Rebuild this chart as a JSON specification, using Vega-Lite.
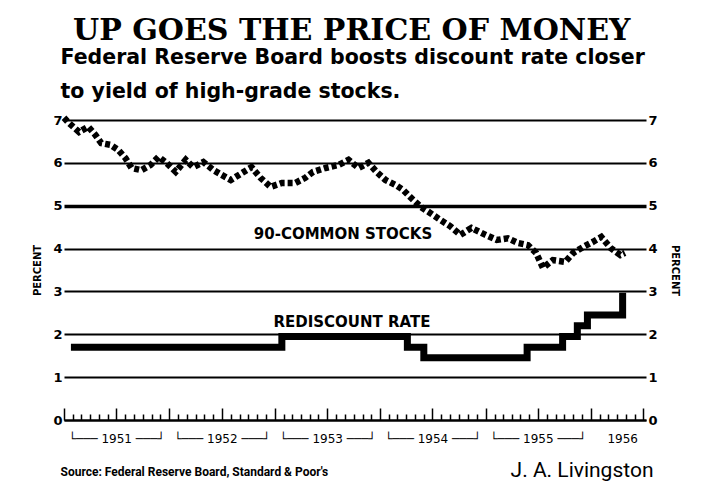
{
  "$schema": "https://vega.github.io/schema/vega-lite/v6.json",
  "width": 582,
  "height": 300,
  "padding": {"left": 32, "top": 16, "right": 26, "bottom": 6},
  "background": "white",
  "title": {
    "text": "UP GOES THE PRICE OF MONEY",
    "anchor": "start",
    "frame": "group",
    "dx": 9,
    "font": "DejaVu Serif",
    "fontSize": 30,
    "fontWeight": "bold",
    "color": "black",
    "baseline": "alphabetic",
    "offset": -23
  },
  "datasets": {
    "stocks": [
      {"date": "1951-01-01", "yield": 7.05},
      {"date": "1951-01-18", "yield": 6.93},
      {"date": "1951-02-22", "yield": 6.72},
      {"date": "1951-03-26", "yield": 6.84},
      {"date": "1951-04-20", "yield": 6.65},
      {"date": "1951-05-10", "yield": 6.46},
      {"date": "1951-06-11", "yield": 6.42},
      {"date": "1951-07-08", "yield": 6.3},
      {"date": "1951-08-02", "yield": 6.11},
      {"date": "1951-08-23", "yield": 5.88},
      {"date": "1951-09-26", "yield": 5.83},
      {"date": "1951-10-28", "yield": 5.95},
      {"date": "1951-11-25", "yield": 6.14},
      {"date": "1951-12-22", "yield": 6.0},
      {"date": "1952-01-23", "yield": 5.79},
      {"date": "1952-02-27", "yield": 6.07},
      {"date": "1952-03-24", "yield": 5.9},
      {"date": "1952-04-28", "yield": 6.02},
      {"date": "1952-06-02", "yield": 5.83},
      {"date": "1952-06-30", "yield": 5.72},
      {"date": "1952-08-01", "yield": 5.6},
      {"date": "1952-09-08", "yield": 5.76},
      {"date": "1952-10-12", "yield": 5.9},
      {"date": "1952-11-12", "yield": 5.65},
      {"date": "1952-12-17", "yield": 5.44},
      {"date": "1953-01-25", "yield": 5.53},
      {"date": "1953-03-12", "yield": 5.53},
      {"date": "1953-04-16", "yield": 5.65},
      {"date": "1953-05-13", "yield": 5.79},
      {"date": "1953-06-25", "yield": 5.88},
      {"date": "1953-08-09", "yield": 5.95},
      {"date": "1953-09-13", "yield": 6.07},
      {"date": "1953-10-18", "yield": 5.88},
      {"date": "1953-11-21", "yield": 6.0},
      {"date": "1953-12-19", "yield": 5.79},
      {"date": "1954-01-19", "yield": 5.6},
      {"date": "1954-02-24", "yield": 5.48},
      {"date": "1954-03-21", "yield": 5.37},
      {"date": "1954-04-18", "yield": 5.18},
      {"date": "1954-05-22", "yield": 4.97},
      {"date": "1954-06-23", "yield": 4.83},
      {"date": "1954-07-28", "yield": 4.67},
      {"date": "1954-09-01", "yield": 4.52},
      {"date": "1954-10-06", "yield": 4.32},
      {"date": "1954-11-13", "yield": 4.48},
      {"date": "1955-01-01", "yield": 4.32},
      {"date": "1955-02-09", "yield": 4.2},
      {"date": "1955-03-19", "yield": 4.24},
      {"date": "1955-04-24", "yield": 4.13},
      {"date": "1955-05-28", "yield": 4.08},
      {"date": "1955-06-25", "yield": 3.9},
      {"date": "1955-07-19", "yield": 3.55},
      {"date": "1955-08-22", "yield": 3.73},
      {"date": "1955-10-04", "yield": 3.69},
      {"date": "1955-11-01", "yield": 3.9},
      {"date": "1955-12-06", "yield": 4.04},
      {"date": "1956-01-09", "yield": 4.16},
      {"date": "1956-02-06", "yield": 4.27},
      {"date": "1956-03-10", "yield": 4.01},
      {"date": "1956-04-12", "yield": 3.85},
      {"date": "1956-04-28", "yield": 3.9}
    ],
    "rate": [
      {"date": "1951-01-25", "rate": 1.7},
      {"date": "1953-01-25", "rate": 1.95},
      {"date": "1954-04-05", "rate": 1.7},
      {"date": "1954-06-01", "rate": 1.45},
      {"date": "1955-05-25", "rate": 1.7},
      {"date": "1955-09-25", "rate": 1.95},
      {"date": "1955-11-15", "rate": 2.2},
      {"date": "1955-12-20", "rate": 2.45},
      {"date": "1956-04-20", "rate": 2.97}
    ],
    "labels": [
      {"label": "90-COMMON STOCKS", "date": "1953-08-25", "value": 4.34},
      {"label": "REDISCOUNT RATE", "date": "1953-09-25", "value": 2.29}
    ]
  },
  "layer": [
    {
      "data": {"name": "stocks"},
      "mark": {"type": "line", "color": "black", "strokeWidth": 6.5, "strokeDash": [5, 3]},
      "encoding": {
        "x": {
          "field": "date",
          "type": "temporal",
          "scale": {"type": "utc", "domain": [{"year": 1951, "month": 1, "date": 1, "utc": true}, {"year": 1956, "month": 7, "date": 10, "utc": true}]},
          "axis": {
            "orient": "bottom",
            "tickCount": {"interval": "month", "step": 1},
            "tickSize": {"condition": {"test": "utcmonth(datum.value) % 6 === 0", "value": -12}, "value": -6},
            "tickColor": "black",
            "tickWidth": 1.5,
            "domain": true,
            "domainColor": "black",
            "domainWidth": 2,
            "grid": false,
            "labelExpr": "utcmonth(datum.value) === 6 && utcyear(datum.value) < 1956 ? '\u2514\u2500\u2500\u2500 ' + utcyear(datum.value) + ' \u2500\u2500\u2500\u2518' : (utcmonth(datum.value) === 3 && utcyear(datum.value) === 1956 ? '1956' : '')",
            "labelAngle": 0,
            "labelAlign": "center",
            "labelBaseline": "top",
            "labelOverlap": false,
            "labelFlush": false,
            "labelBound": false,
            "labelFont": "DejaVu Sans",
            "labelFontSize": 12,
            "labelColor": "black",
            "labelPadding": {"condition": {"test": "utcmonth(datum.value) === 3", "value": 19}, "value": 25},
            "labelOffset": {"condition": {"test": "utcmonth(datum.value) === 3", "value": 5}, "value": 0},
            "title": "Source: Federal Reserve Board, Standard & Poor's",
            "titleFont": "Roboto",
            "titleFontSize": 12,
            "titleFontWeight": "bold",
            "titleColor": "black",
            "titleAnchor": "start",
            "titleAlign": "left",
            "titleX": -4,
            "titleY": 55,
            "titleBaseline": "alphabetic"
          }
        },
        "y": {
          "field": "yield",
          "type": "quantitative",
          "scale": {"domain": [0, 7], "nice": false},
          "axis": {
            "orient": "left",
            "values": [0, 1, 2, 3, 4, 5, 6, 7],
            "title": "PERCENT",
            "titleFont": "DejaVu Sans",
            "titleFontSize": 10,
            "titleFontWeight": "bold",
            "titleColor": "black",
            "titlePadding": 10,
            "labelFont": "DejaVu Sans",
            "labelFontSize": 13,
            "labelFontWeight": "bold",
            "labelColor": "black",
            "labelPadding": 2,
            "ticks": false,
            "domain": false,
            "grid": true,
            "gridColor": "black",
            "gridOpacity": 1,
            "gridWidth": {"condition": {"test": "datum.value === 5", "value": 3.5}, "value": 2}
          }
        }
      }
    },
    {
      "data": {"name": "rate"},
      "mark": {"type": "line", "interpolate": "step-after", "color": "black", "strokeWidth": 7, "strokeJoin": "miter", "strokeCap": "butt"},
      "encoding": {
        "x": {
          "field": "date",
          "type": "temporal",
          "axis": {
            "orient": "bottom",
            "ticks": false,
            "labels": false,
            "domain": false,
            "grid": false,
            "title": "J. A. Livingston",
            "titleFont": "Roboto",
            "titleFontSize": 21,
            "titleFontWeight": "normal",
            "titleColor": "black",
            "titleAlign": "right",
            "titleX": 589,
            "titleY": 56,
            "titleBaseline": "alphabetic"
          }
        },
        "y": {
          "field": "rate",
          "type": "quantitative",
          "axis": {
            "orient": "right",
            "values": [0, 1, 2, 3, 4, 5, 6, 7],
            "title": "PERCENT",
            "titleFont": "DejaVu Sans",
            "titleFontSize": 10,
            "titleFontWeight": "bold",
            "titleColor": "black",
            "titlePadding": 12,
            "labelFont": "DejaVu Sans",
            "labelFontSize": 13,
            "labelFontWeight": "bold",
            "labelColor": "black",
            "labelPadding": 2,
            "ticks": false,
            "domain": false,
            "grid": false
          }
        }
      }
    },
    {
      "data": {"name": "labels"},
      "mark": {"type": "text", "font": "DejaVu Sans", "fontSize": 15, "fontWeight": "bold", "color": "black", "align": "center", "baseline": "middle"},
      "encoding": {
        "x": {
          "field": "date",
          "type": "temporal",
          "axis": {
            "orient": "top",
            "ticks": false,
            "labels": false,
            "domain": false,
            "grid": false,
            "title": ["Federal Reserve Board boosts discount rate closer", "to yield of high-grade stocks."],
            "titleFont": "DejaVu Sans",
            "titleFontSize": 20.5,
            "titleFontWeight": "bold",
            "titleColor": "black",
            "titleLineHeight": 34,
            "titleAlign": "left",
            "titleAnchor": "start",
            "titleX": -4,
            "titleY": -57,
            "titleBaseline": "alphabetic"
          }
        },
        "y": {"field": "value", "type": "quantitative", "axis": null},
        "text": {"field": "label"}
      }
    }
  ],
  "resolve": {"axis": {"x": "independent", "y": "independent"}},
  "config": {"view": {"stroke": null}}
}
